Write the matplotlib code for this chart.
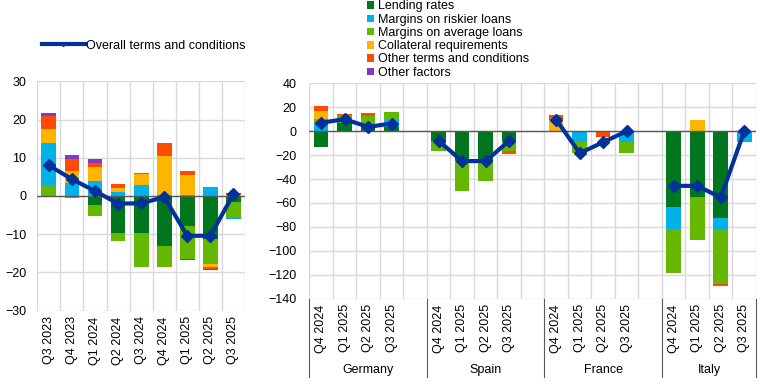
import numpy as np
import matplotlib
matplotlib.use("Agg")
import matplotlib.pyplot as plt
from matplotlib.lines import Line2D
from matplotlib.patches import Patch
from matplotlib.transforms import blended_transform_factory

plt.rcParams['font.family'] = ['Liberation Sans', 'DejaVu Sans']
plt.rcParams['font.size'] = 9

series_names = ["Lending rates", "Margins on riskier loans", "Margins on average loans",
                "Collateral requirements", "Other terms and conditions", "Other factors"]
colors = ["#00771E", "#00B1EA", "#65B800", "#FFB400", "#FF4B00", "#8139C6"]
line_name = "Overall terms and conditions"
line_color = "#003299"

# Left panel: euro area
left_quarters = ["Q3 2023", "Q4 2023", "Q1 2024", "Q2 2024", "Q3 2024",
                 "Q4 2024", "Q1 2025", "Q2 2025", "Q3 2025"]
left_lending = [0.0, 0.0, -2.3, -9.7, -9.7, -13.0, -7.8, -11.2, -1.6]
left_riskier = [11.0, 3.3, 3.9, 1.0, 2.9, 0.3, 0.3, 2.3, -0.3]
left_average = [2.9, -0.4, -2.9, -2.0, -9.0, -5.7, -8.7, -6.5, -4.0]
left_collateral = [3.6, 3.2, 3.7, 1.1, 2.9, 10.1, 5.2, -1.0, 0.3]
left_other_terms = [3.5, 3.2, 1.1, 1.0, 0.3, 3.4, 1.1, -0.3, 0.3]
left_other_factors = [0.7, 1.0, 1.0, 0.0, 0.0, 0.0, -0.3, -0.3, 0.3]
left_overall = [8.0, 4.4, 1.3, -2.0, -1.9, -0.3, -10.4, -10.4, 0.5]

# Right panel: countries
countries = ["Germany", "Spain", "France", "Italy"]
country_quarters = ["Q4 2024", "Q1 2025", "Q2 2025", "Q3 2025"]
right_lending = [-13.4, 7.2, 3.6, 3.6, -8.1, -25.0, -25.0, -8.1,
                 0.0, 0.0, 0.0, 0.0, -63.2, -54.9, -72.4, 0.0]
right_riskier = [6.4, 0.0, 0.0, 5.6, 0.0, 0.0, 0.0, 0.0,
                 0.0, -8.9, 0.0, -8.9, -18.7, 0.0, -9.5, -8.9]
right_average = [3.6, 6.2, 8.9, 6.7, -8.3, -24.8, -16.4, -8.6,
                 0.0, -9.2, 0.0, -9.2, -36.5, -35.9, -45.7, 0.0]
right_collateral = [6.7, 0.0, 0.0, 0.0, 0.0, 0.0, 0.0, 0.0,
                    9.2, 0.0, 0.0, 0.0, 0.0, 9.2, 0.0, 0.0]
right_other_terms = [4.2, 0.8, 2.5, 0.0, 0.0, 0.0, 0.0, -2.2,
                     3.9, 0.0, -4.7, 0.0, 0.0, 0.0, -1.7, 0.0]
right_other_factors = [0.0] * 16
right_overall = [7.0, 10.0, 3.6, 6.4, -8.1, -25.0, -25.0, -8.1,
                 9.7, -18.4, -9.2, 0.0, -45.7, -45.7, -55.4, 0.0]

W, H = 767, 389
fig = plt.figure(figsize=(W / 100, H / 100), dpi=100)

def ax_rect(x0, x1, ytop, ybot):
    return [x0 / W, 1 - ybot / H, (x1 - x0) / W, (ybot - ytop) / H]

axL = fig.add_axes(ax_rect(37.3, 245, 81.3, 310.7))
axR = fig.add_axes(ax_rect(309.3, 756, 83.3, 298.7))

grid_c = "#D9D9D9"

def stacked(ax, x, series, cols, width):
    pos = np.zeros(len(x))
    neg = np.zeros(len(x))
    for vals, c in zip(series, cols):
        v = np.array(vals, dtype=float)
        b = np.where(v >= 0, pos, neg)
        ax.bar(x, v, width, bottom=b, color=c, linewidth=0, zorder=2)
        pos = pos + np.where(v > 0, v, 0)
        neg = neg + np.where(v < 0, v, 0)

def style(ax, nslots, ylim, ystep, ypad):
    ax.set_xlim(-0.5, nslots - 0.5)
    ax.set_ylim(*ylim)
    ax.set_yticks(np.arange(ylim[0], ylim[1] + 0.1, ystep))
    for b in np.arange(-0.5, nslots, 1.0):
        ax.axvline(b, color=grid_c, lw=1, zorder=0)
    for yv in np.arange(ylim[0], ylim[1] + 0.1, ystep):
        ax.axhline(yv, color=grid_c, lw=1, zorder=0)
    ax.axhline(0, color="#595959", lw=1, zorder=3)
    for s in ax.spines.values():
        s.set_visible(False)
    ax.tick_params(axis="y", length=0, pad=ypad, labelsize=9, labelcolor="#000000")
    ax.tick_params(axis="x", length=0, pad=4, labelsize=9, labelcolor="#000000")

# Left panel (stack order: lending, average, riskier, collateral, other terms, other factors)
xl = np.arange(len(left_quarters))
stacked(axL, xl, [left_lending, left_average, left_riskier, left_collateral,
                  left_other_terms, left_other_factors],
        [colors[0], colors[2], colors[1], colors[3], colors[4], colors[5]], 0.64)
axL.plot(xl, left_overall, color=line_color, lw=3, marker="D", markersize=6, zorder=4)
style(axL, len(left_quarters), (-30, 30), 10, 8)
axL.set_xticks(xl)
axL.set_xticklabels(left_quarters, rotation=90)

# Right panel
xr = []
for gi in range(len(countries)):
    for qi in range(len(country_quarters)):
        xr.append(gi * 5 + qi)
xr = np.array(xr)
stacked(axR, xr, [right_lending, right_riskier, right_average, right_collateral,
                  right_other_terms, right_other_factors], colors, 0.62)
for gi in range(len(countries)):
    sl = slice(gi * 4, gi * 4 + 4)
    axR.plot(xr[sl], right_overall[sl], color=line_color, lw=3, marker="D",
             markersize=6, zorder=4)
style(axR, 19, (-140, 40), 20, 9)
axR.set_xticks(xr)
axR.set_xticklabels(country_quarters * len(countries), rotation=90)

trans = blended_transform_factory(axR.transData, axR.transAxes)
for b in [-0.5, 4.5, 9.5, 14.5, 18.5]:
    axR.add_line(Line2D([b, b], [0, -0.365], transform=trans, color="#595959",
                        lw=0.8, clip_on=False))
for gi, name in enumerate(countries):
    start = gi * 5 - 0.5
    end = min(start + 5, 18.5)
    axR.text((start + end) / 2, -0.33, name, transform=trans, ha="center",
             va="center", fontsize=9)

# Legends
h_line = Line2D([0], [0], color=line_color, lw=3, marker="D", markersize=2)
fig.legend([h_line], [line_name], loc="center left",
           bbox_to_anchor=(42 / W, 1 - 45.7 / H), frameon=False, fontsize=9,
           handlelength=3.4, handletextpad=0.1, borderaxespad=0, borderpad=0)

handles = [Patch(facecolor=c, edgecolor="none") for c in colors]
fig.legend(handles, series_names, loc="upper left",
           bbox_to_anchor=(367 / W, 1 - 0.5 / H), frameon=False, fontsize=9,
           handlelength=0.55, handleheight=0.55, handletextpad=0.35,
           labelspacing=0.1, borderaxespad=0, borderpad=0)

fig.savefig("out.png", dpi=100)
